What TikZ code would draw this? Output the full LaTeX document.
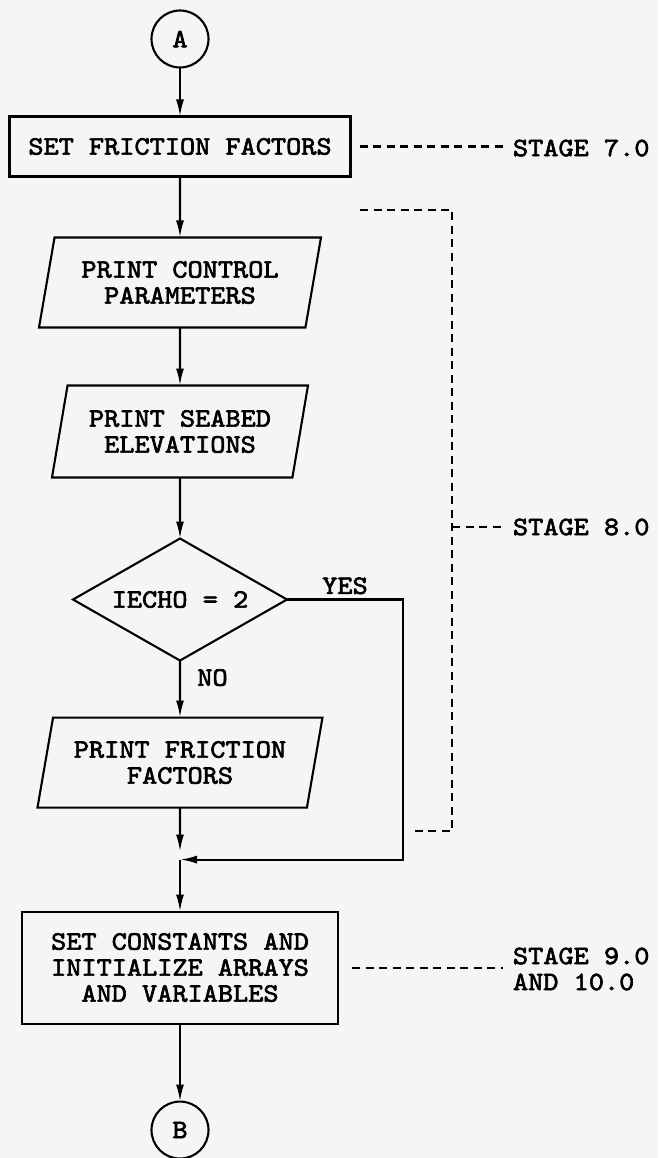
\documentclass[tikz,border=0pt]{standalone}
\usepackage{fontspec}
\newfontfamily\flowfont{lmmono10-regular.otf}[FakeStretch=1.09, FakeBold=2.4]
\usepackage{tikz}
\usetikzlibrary{arrows.meta,positioning,shapes.geometric}

\begin{document}
\begin{tikzpicture}[x=1pt, y=1pt, line width=2.1pt, every node/.style={font=\flowfont\fontsize{26.5}{26}\selectfont, outer sep=0pt}, box/.style={rectangle, draw=black, align=center, inner sep=0pt}, io/.style={trapezium, trapezium left angle=70, trapezium right angle=110, trapezium stretches body, draw=black, align=center, inner sep=0pt, minimum width=282pt, minimum height=90pt}, conn/.style={circle, draw=black, minimum size=57pt, inner sep=0pt}, arr/.style={-{Latex[length=17pt,width=8pt]}}, stagedash/.style={dash pattern=on 8pt off 5.5pt}, stage/.style={anchor=west, align=left, inner sep=2pt}]
\useasboundingbox (0,0) rectangle (658,-1158);
\fill[black!4] (0,0) rectangle (658,-1158);
\node[conn] (a) at (180,-39) {A};
\node[box, minimum width=341pt, minimum height=60pt, below=49pt of a] (b) {SET FRICTION FACTORS};
\node[io, below=61pt of b] (c) {PRINT CONTROL\\PARAMETERS};
\node[io, minimum width=256pt, minimum height=92pt, below=58pt of c] (d) {PRINT SEABED\\ELEVATIONS};
\node[diamond, aspect=1.75, draw=black, inner sep=0pt, minimum width=214pt, minimum height=122pt, below=61pt of d] (e) {IECHO = 2};
\node[io, minimum width=285pt, below=57pt of e] (f) {PRINT FRICTION\\FACTORS};
\coordinate[below=52pt of f] (m);
\coordinate[right=223pt of m] (y);
\node[box, minimum width=316pt, minimum height=112pt, below=52pt of m] (g) {SET CONSTANTS AND\\INITIALIZE ARRAYS\\AND VARIABLES};
\node[conn, below=78pt of g] (h) {B};
\node[stage] (s7) at (511,-148) {STAGE 7.0};
\node[stage] (s8) at (511,-527) {STAGE 8.0};
\node[stage] (s9) at (511,-969) {STAGE 9.0\\AND 10.0};
\coordinate (t8) at (360,-210);
\coordinate (j8) at (452,-527);
\coordinate (e8) at (413,-831);
\draw[arr] (a) -- (b); \draw[arr] (b) -- (c); \draw[arr] (c) -- (d); \draw[arr] (d) -- (e);
\draw[arr] (e) -- node[pos=0.3, right=14pt] {NO} (f);
\draw[arr] (e.east) -| node[pos=0.25, above=2pt] {YES} (y) -- (m);
\draw[arr, shorten >=8pt] (f) -- (m); \draw[arr] (m) -- (g); \draw[arr] (g) -- (h);
\draw[stagedash] ([xshift=9pt]b.east) -- ([xshift=-8pt]b.east -| s7.west);
\draw[stagedash] (t8) -| (j8) |- (e8);
\draw[stagedash] (j8) -- ([xshift=-8pt]s8.west);
\draw[stagedash] ([xshift=14pt]g.east) -- ([xshift=-8pt]g.east -| s9.west);
\end{tikzpicture}
\end{document}
